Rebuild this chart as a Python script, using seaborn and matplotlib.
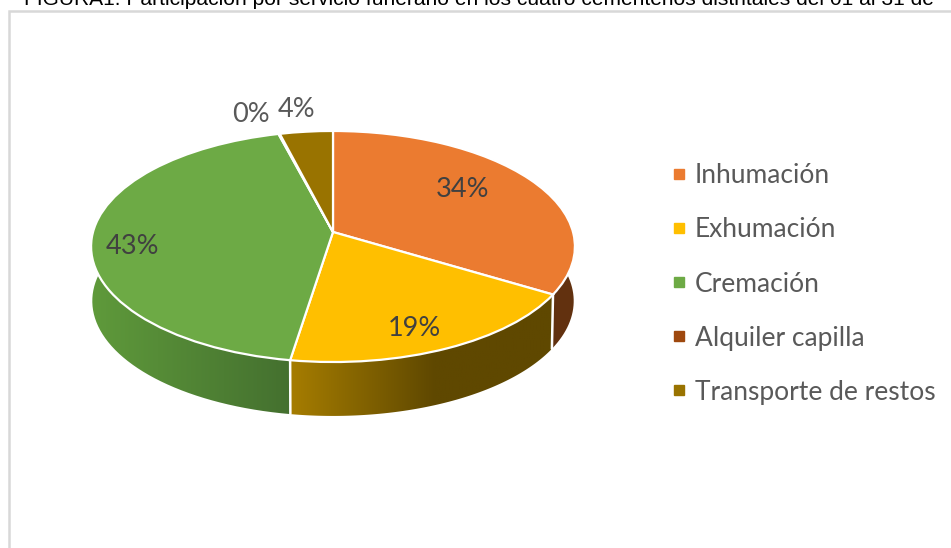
import numpy as np
import matplotlib
matplotlib.use("Agg")
import matplotlib.pyplot as plt
from matplotlib.colors import to_rgb
from matplotlib.lines import Line2D
from matplotlib.patches import Polygon
from matplotlib.transforms import Transform
import seaborn as sns

# ---- data ----
title = ("FIGURA1. Participación por servicio funerario en los cuatro "
         "cementerios distritales del 01 al 31 de")
categories = ["Inhumación", "Exhumación", "Cremación", "Alquiler capilla", "Transporte de restos"]
shares = [33.6, 18.9, 43.4, 0.1, 4.0]
top_colors = ["#EB7B30", "#FFBF00", "#6DAA45", "#9E480E", "#997300"]
wall_left = ["#552A0B", "#A67D00", "#5F9A3B", "#552A0B", "#5F4800"]
wall_right = ["#633210", "#5F4800", "#44702F", "#552A0B", "#5F4800"]
wall_knee = [1.0, 0.55, 1.0, 1.0, 1.0]

# ---- style ----
sns.set_theme(style="white")
plt.rcParams["font.family"] = ["Lato", "DejaVu Sans"]
palette = sns.color_palette(top_colors)

W, H = 951, 548
fig = plt.figure(figsize=(W / 100, H / 100), dpi=100, facecolor="white")
ax = fig.add_axes([0, 0, 1, 1])

# perspective of the tilted disc, in picture units
APEX_X, APEX_Y = 333.0, 232.0
SCALE_X, SCALE_Y, K = 240.0, 113.7, 0.1255
DEPTH, LOWER_SCALE = 54.5, 0.995


class Tilt(Transform):
    input_dims = output_dims = 2
    is_separable = False
    has_inverse = False

    def transform_non_affine(self, values):
        v = np.asarray(values, dtype=float)
        d = 1 + K * v[:, 1]
        return np.column_stack((APEX_X + SCALE_X * v[:, 0] / d,
                                APEX_Y - SCALE_Y * v[:, 1] / d))


tilt = Tilt()


def rim(fracs):
    a = 2 * np.pi * np.asarray(fracs)
    return tilt.transform_non_affine(np.column_stack((np.sin(a), np.cos(a))))


def lower(pts):
    cx, cy = APEX_X, 247.0
    return np.column_stack((cx + LOWER_SCALE * (pts[:, 0] - cx),
                            cy + LOWER_SCALE * (pts[:, 1] - cy) + DEPTH))


total = sum(shares)
edges = np.concatenate(([0], np.cumsum(shares))) / total

wedges, _ = ax.pie(shares, colors=palette, startangle=90, counterclock=False, radius=1,
                   wedgeprops=dict(edgecolor="white", linewidth=1.6))
for w in wedges:
    w.set_transform(tilt + ax.transData)
    w.set_zorder(3)

# side wall of each slice, built from the same shares
for i in range(len(shares)):
    f = np.linspace(edges[i], edges[i + 1], 80)
    top = rim(f)
    low = lower(top)
    poly = np.vstack((top, low[::-1]))
    x0, x1 = poly[:, 0].min(), poly[:, 0].max()
    y0, y1 = poly[:, 1].min(), poly[:, 1].max()
    t = np.clip(np.linspace(0, 1, 256) / wall_knee[i], 0, 1)[None, :, None]
    grad = (1 - t) * np.array(to_rgb(wall_left[i])) + t * np.array(to_rgb(wall_right[i]))
    im = ax.imshow(grad, extent=(x0, x1, y1, y0), aspect="auto", zorder=1, interpolation="bilinear")
    patch = Polygon(poly, closed=True, transform=ax.transData, facecolor="none", edgecolor="none")
    ax.add_patch(patch)
    im.set_clip_path(patch)

# white seams on the visible wall
for f in edges[1:3]:
    a = rim([f])
    b = lower(a)
    ax.plot([a[0, 0], b[0, 0]], [a[0, 1], b[0, 1]], color="white", lw=1.8, zorder=2)

# percentage labels
label_xy = [(463, 189.5), (414, 328.5), (132, 246.5), (251, 114), (297, 109.5)]
label_col = ["#404040", "#404040", "#404040", "#595959", "#595959"]
for s, (x, y), c in zip(shares, label_xy, label_col):
    ax.text(x, y, f"{s / total * 100:.0f}%", ha="center", va="center",
            fontsize=19.5, color=c, zorder=5)

# legend
handles = [Line2D([], [], linestyle="none", marker="s", markersize=7.5,
                  markerfacecolor=c, markeredgecolor=c) for c in palette]
ax.legend(handles, categories, loc="center left", bbox_to_anchor=(670 / W, 1 - 284 / H),
          frameon=False, fontsize=19, labelcolor="#595959", labelspacing=1.1,
          handlelength=0.7, handletextpad=0.25, borderpad=0, borderaxespad=0)

# chart frame
ax.plot([9, 9, W], [H, 11, 11], color="#D8D8D8", lw=1.8, zorder=0, solid_joinstyle="miter")

# clipped caption
ax.text(24, 5, title, ha="left", va="baseline", fontsize=15.1,
        family=["Liberation Sans", "DejaVu Sans"], color="black", clip_on=False)

ax.set_aspect("auto")
ax.set_xlim(0, W)
ax.set_ylim(H, 0)
ax.axis("off")
fig.savefig("out.png", dpi=100)
